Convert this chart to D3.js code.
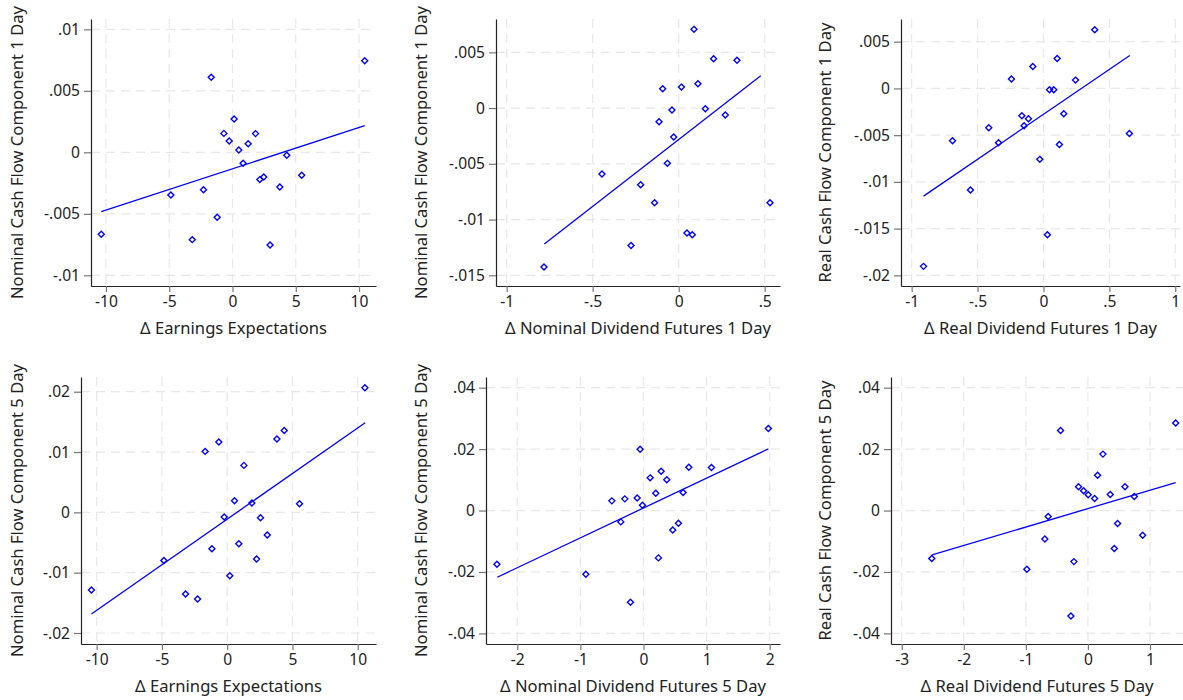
<!DOCTYPE html>
<html>
<head>
<meta charset="utf-8">
<script src="https://cdn.jsdelivr.net/npm/d3@7"></script>
<style>
  body { margin: 0; background: #fff; }
  svg { display: block; }
  text { font-family: "Noto Sans", "Open Sans", sans-serif; fill: #222; }
</style>
</head>
<body>
<svg id="chart"></svg>
<script>
const width = 1183
const height = 700

// panel 1: earnings expectations vs nominal CF 1 day
const earnX1 = [-10.37, -1.68, 10.45, 0.13, -0.68, 1.82, -0.26, 1.24, 0.50, 4.29,
  0.84, 5.47, 2.47, 2.16, 3.74, -2.29, -4.87, -1.21, -3.18, 2.97]
const nomCf1Y = [-0.00667, 0.0061, 0.00745, 0.00271, 0.00154, 0.00152, 0.00092, 0.0007, 0.00019, -0.00024,
  -0.00089, -0.00187, -0.00201, -0.00222, -0.00282, -0.00304, -0.00347, -0.00528, -0.0071, -0.00753]
const fitX1 = [-10.37, 10.45]
const fitY1 = [-0.00482, 0.00217]

// panel 2: nominal dividend futures 1 day
const nomDivX1 = [0.089, 0.203, 0.339, 0.112, 0.016, -0.093, -0.039, 0.155, 0.271, -0.114,
  -0.029, -0.066, -0.446, -0.221, -0.140, 0.531, 0.048, 0.079, -0.277, -0.783]
const nomCf1Yb = [0.00706, 0.00442, 0.00428, 0.00218, 0.00188, 0.00173, -0.00018, -0.00006, -0.00063, -0.00123,
  -0.0026, -0.00496, -0.00592, -0.00688, -0.00849, -0.00849, -0.01121, -0.01136, -0.01232, -0.01426]
const fitX2 = [-0.781, 0.477]
const fitY2 = [-0.0122, 0.0029]

// panel 3: real dividend futures 1 day
const realDivX1 = [0.389, 0.104, -0.081, -0.243, 0.243, 0.046, 0.078, 0.154, -0.164, -0.114,
  -0.147, -0.415, 0.652, -0.690, -0.341, 0.121, -0.028, -0.554, 0.030, -0.910]
const realCf1Y = [0.00627, 0.00321, 0.00235, 0.001, 0.00089, -0.00014, -0.00014, -0.00271, -0.00292, -0.00324,
  -0.00399, -0.00421, -0.00481, -0.0056, -0.00581, -0.00599, -0.00759, -0.01087, -0.01565, -0.01904]
const fitX3 = [-0.910, 0.655]
const fitY3 = [-0.01152, 0.00353]

// panel 4: earnings expectations vs nominal CF 5 day
const earnX5 = [10.55, 4.37, 3.81, -0.64, -1.69, 1.28, 0.56, 1.89, 5.54, -0.23,
  2.55, 3.07, 0.89, -1.17, -4.85, 2.25, 0.20, -10.40, -3.19, -2.27]
const nomCf5Y = [0.02066, 0.01359, 0.01215, 0.01166, 0.01011, 0.00779, 0.00193, 0.00155, 0.00144, -0.00077,
  -0.00088, -0.00376, -0.00519, -0.00602, -0.00796, -0.00773, -0.0105, -0.01287, -0.01354, -0.01436]
const fitX4 = [-10.40, 10.57]
const fitY4 = [-0.01685, 0.01486]

// panel 5: nominal dividend futures 5 day
const nomDivX5 = [1.979, -0.053, 0.280, 0.718, 1.077, 0.106, 0.369, 0.195, 0.628, -0.100,
  -0.296, -0.501, -0.016, -0.359, 0.554, 0.464, 0.237, -2.322, -0.913, -0.206]
const nomCf5Yb = [0.0267, 0.01997, 0.01281, 0.01411, 0.014, 0.01064, 0.00999, 0.00564, 0.00586, 0.00412,
  0.0038, 0.00315, 0.00174, -0.00369, -0.00412, -0.0063, -0.01541, -0.01748, -0.02073, -0.02985]
const fitX5 = [-2.317, 1.979]
const fitY5 = [-0.02171, 0.02008]

// panel 6: real dividend futures 5 day
const realDivX5 = [1.414, -0.441, 0.242, 0.156, -0.151, 0.597, -0.070, 0.005, 0.360, 0.108,
  0.747, -0.640, 0.478, 0.882, -0.694, 0.425, -2.516, -0.226, -0.984, -0.274]
const realCf5Y = [0.02848, 0.02609, 0.01837, 0.01152, 0.00772, 0.00772, 0.00641, 0.00511, 0.00522, 0.00391,
  0.00457, -0.00196, -0.00424, -0.00804, -0.00924, -0.01239, -0.01565, -0.01663, -0.01913, -0.03435]
const fitX6 = [-2.511, 1.414]
const fitY6 = [-0.01446, 0.00913]

// tick values
const xTicksEarn = [-10, -5, 0, 5, 10]
const xTicksDiv1 = [-1, -0.5, 0, 0.5]
const xTicksReal1 = [-1, -0.5, 0, 0.5, 1]
const xTicksDiv5 = [-2, -1, 0, 1, 2]
const xTicksReal5 = [-3, -2, -1, 0, 1]
const yTicks1a = [-0.01, -0.005, 0, 0.005, 0.01]
const yTicks1b = [-0.015, -0.01, -0.005, 0, 0.005]
const yTicks1c = [-0.02, -0.015, -0.01, -0.005, 0, 0.005]
const yTicks5a = [-0.02, -0.01, 0, 0.01, 0.02]
const yTicks5b = [-0.04, -0.02, 0, 0.02, 0.04]

const xTitles = ['\u0394 Earnings Expectations', '\u0394 Nominal Dividend Futures 1 Day', '\u0394 Real Dividend Futures 1 Day',
  '\u0394 Earnings Expectations', '\u0394 Nominal Dividend Futures 5 Day', '\u0394 Real Dividend Futures 5 Day']
const yTitles = ['Nominal Cash Flow Component 1 Day', 'Nominal Cash Flow Component 1 Day', 'Real Cash Flow Component 1 Day',
  'Nominal Cash Flow Component 5 Day', 'Nominal Cash Flow Component 5 Day', 'Real Cash Flow Component 5 Day']

// layout of each panel (plot area in pixels) plus its domains
const panels = [
  { x: earnX1, y: nomCf1Y, fx: fitX1, fy: fitY1, xt: xTicksEarn, yt: yTicks1a,
    left: 91, right: 376, top: 19, bottom: 286, xd: [-11.18, 11.34], yd: [-0.01087, 0.01084], ytx: 17 },
  { x: nomDivX1, y: nomCf1Yb, fx: fitX2, fy: fitY2, xt: xTicksDiv1, yt: yTicks1b,
    left: 496, right: 780, top: 19, bottom: 286, xd: [-1.062, 0.589], yd: [-0.01596, 0.00799], ytx: 421 },
  { x: realDivX1, y: realCf1Y, fx: fitX3, fy: fitY3, xt: xTicksReal1, yt: yTicks1c,
    left: 901, right: 1180, top: 19, bottom: 286, xd: [-1.081, 1.036], yd: [-0.02114, 0.00743], ytx: 825 },
  { x: earnX5, y: nomCf5Y, fx: fitX4, fy: fitY4, xt: xTicksEarn, yt: yTicks5a,
    left: 81, right: 376, top: 377, bottom: 644, xd: [-11.2, 11.4], yd: [-0.02182, 0.02244], ytx: 17 },
  { x: nomDivX5, y: nomCf5Yb, fx: fitX5, fy: fitY5, xt: xTicksDiv5, yt: yTicks5b,
    left: 486, right: 780, top: 377, bottom: 644, xd: [-2.495, 2.163], yd: [-0.04345, 0.04348], ytx: 421 },
  { x: realDivX5, y: realCf5Y, fx: fitX6, fy: fitY6, xt: xTicksReal5, yt: yTicks5b,
    left: 891, right: 1183, top: 377, bottom: 644, xd: [-3.173, 1.532], yd: [-0.04345, 0.04348], ytx: 825 }
]

// stata style numbers: .005 instead of 0.005
const fmt = v => String(+v.toFixed(6)).replace(/^(-?)0\./, '$1.')

const svg = d3.select('#chart')
  .attr('width', width)
  .attr('height', height)

const diamond = 'M0,-3L3,0L0,3L-3,0Z'

panels.forEach((p, i) => {
  const xs = d3.scaleLinear().domain(p.xd).range([p.left, p.right])
  const ys = d3.scaleLinear().domain(p.yd).range([p.bottom, p.top])
  const g = svg.append('g')

  // dashed grid
  g.selectAll('.vg')
    .data(p.xt)
    .enter().append('line')
    .attr('x1', d => xs(d)).attr('x2', d => xs(d))
    .attr('y1', p.top).attr('y2', p.bottom)
    .attr('stroke', '#e8e8e8').attr('stroke-width', 1.2)
    .attr('stroke-dasharray', '9,6')
  g.selectAll('.hg')
    .data(p.yt)
    .enter().append('line')
    .attr('x1', p.left).attr('x2', p.right)
    .attr('y1', d => ys(d)).attr('y2', d => ys(d))
    .attr('stroke', '#e8e8e8').attr('stroke-width', 1.2)
    .attr('stroke-dasharray', '9,6')

  const xAxis = g.append('g')
    .attr('transform', `translate(0,${p.bottom})`)
    .call(d3.axisBottom(xs).tickValues(p.xt).tickFormat(fmt).tickSize(6).tickSizeOuter(0).tickPadding(4))
  const yAxis = g.append('g')
    .attr('transform', `translate(${p.left},0)`)
    .call(d3.axisLeft(ys).tickValues(p.yt).tickFormat(fmt).tickSize(7).tickSizeOuter(0).tickPadding(4))

  for (const ax of [xAxis, yAxis]) {
    ax.select('.domain').attr('stroke', '#222').attr('stroke-width', 1.2)
    ax.selectAll('.tick line').attr('stroke', '#777').attr('stroke-width', 1.2)
    ax.selectAll('.tick text').style('font-size', '15.6px').attr('fill', '#222')
      .style('font-family', '"Noto Sans", sans-serif')
  }

  // fitted line
  g.append('line')
    .attr('x1', xs(p.fx[0])).attr('y1', ys(p.fy[0]))
    .attr('x2', xs(p.fx[1])).attr('y2', ys(p.fy[1]))
    .attr('stroke', '#0000ff').attr('stroke-width', 1.3)

  // points
  g.selectAll('.pt')
    .data(p.x.map((d, k) => [d, p.y[k]]))
    .enter().append('path')
    .attr('d', diamond)
    .attr('transform', d => `translate(${xs(d[0])},${ys(d[1])})`)
    .attr('fill', 'none')
    .attr('stroke', '#0000ff')
    .attr('stroke-width', 1.4)

  // titles
  g.append('text')
    .attr('x', (p.left + p.right) / 2)
    .attr('y', p.bottom + 48)
    .attr('text-anchor', 'middle')
    .style('font-size', '16.6px')
    .text(xTitles[i])
  g.append('text')
    .attr('transform', `translate(${p.ytx},${(p.top + p.bottom) / 2}) rotate(-90)`)
    .attr('text-anchor', 'middle')
    .attr('dy', '0.35em')
    .style('font-size', '16.6px')
    .text(yTitles[i])
})
</script>
</body>
</html>
